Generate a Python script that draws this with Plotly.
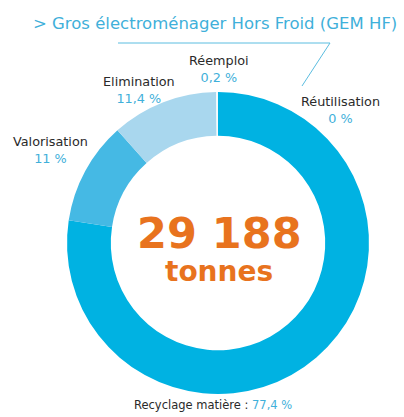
import plotly.graph_objects as go

# Destination of GEM HF waste, clockwise from 12 o'clock
labels = ["Réutilisation", "Recyclage matière", "Valorisation", "Elimination", "Réemploi"]
values = [0.0, 77.4, 11.0, 11.4, 0.2]
value_text = ["0 %", "77,4 %", "11 %", "11,4 %", "0,2 %"]
colors = ["#00b2e2", "#00b2e2", "#45b9e4", "#a9d7ee", "#f4fafd"]

total_text = "29 188"
unit_text = "tonnes"
title_text = "> Gros électroménager Hors Froid (GEM HF)"

W, H = 404, 417
FONT = "DejaVu Sans"
BLUE_TXT = "#3fb0da"
ORANGE = "#e8731e"


def px(x, y):
    # pixel position (from top-left) -> paper coordinates
    return x / W, 1 - y / H


fig = go.Figure()

cx, cy, r = 218, 243, 151
x0, y1 = px(cx - r, cy - r)
x1, y0 = px(cx + r, cy + r)

fig.add_trace(go.Pie(
    labels=labels,
    values=values,
    marker=dict(colors=colors, line=dict(width=0)),
    hole=0.71,
    sort=False,
    direction="clockwise",
    rotation=0,
    textinfo="none",
    hoverinfo="label+percent",
    showlegend=False,
    domain=dict(x=[x0, x1], y=[y0, y1]),
))

annotations = []

# slice labels: (index, x, y of name line)
label_pos = {
    4: (219, 62),   # Réemploi
    3: (139, 83),   # Elimination
    0: (340, 103),  # Réutilisation
    2: (50, 143),   # Valorisation
}
for i, (lx, ly) in label_pos.items():
    ax, ay = px(lx, ly + 7)
    annotations.append(dict(
        x=ax, y=ay, xref="paper", yref="paper", showarrow=False,
        xanchor="center", yanchor="middle",
        text=f"{labels[i]}<br><span style='color:{BLUE_TXT}'>{value_text[i]}</span>",
        font=dict(family=FONT, size=12.8, color="#2a2a2a"),
        align="center",
    ))

# bottom label (Recyclage matière)
bx, by = px(213, 405)
annotations.append(dict(
    x=bx, y=by, xref="paper", yref="paper", showarrow=False,
    xanchor="center", yanchor="middle",
    text=f"{labels[1]} : <span style='color:{BLUE_TXT}'>{value_text[1]}</span>",
    font=dict(family=FONT, size=11.5, color="#2a2a2a"),
))

# centre total
tx, ty = px(219, 233)
annotations.append(dict(
    x=tx, y=ty, xref="paper", yref="paper", showarrow=False,
    xanchor="center", yanchor="middle",
    text=f"<b>{total_text}</b>",
    font=dict(family=FONT, size=43, color=ORANGE),
))
ux, uy = px(219, 271)
annotations.append(dict(
    x=ux, y=uy, xref="paper", yref="paper", showarrow=False,
    xanchor="center", yanchor="middle",
    text=f"<b>{unit_text}</b>",
    font=dict(family=FONT, size=28, color=ORANGE),
))

# title
hx, hy = px(215, 24)
annotations.append(dict(
    x=hx, y=hy, xref="paper", yref="paper", showarrow=False,
    xanchor="center", yanchor="middle",
    text=title_text,
    font=dict(family=FONT, size=16.5, color=BLUE_TXT),
))

# underline + leader line to Réutilisation
lx0, ly0 = px(118, 43)
lx1, ly1 = px(330, 43)
lx2, ly2 = px(302, 86)
shapes = [
    dict(type="line", xref="paper", yref="paper", x0=lx0, y0=ly0, x1=lx1, y1=ly1,
         line=dict(color="#5bbde0", width=1)),
    dict(type="line", xref="paper", yref="paper", x0=lx1, y0=ly1, x1=lx2, y1=ly2,
         line=dict(color="#5bbde0", width=1)),
]

fig.update_layout(
    width=W, height=H,
    margin=dict(l=0, r=0, t=0, b=0),
    paper_bgcolor="white",
    plot_bgcolor="white",
    annotations=annotations,
    shapes=shapes,
)

# drop the default 8px body margin so the figure sits at the window's corner
fig.write_html(
    "out.html",
    config={"displayModeBar": False},
    post_script="document.body.style.margin='0';",
)
